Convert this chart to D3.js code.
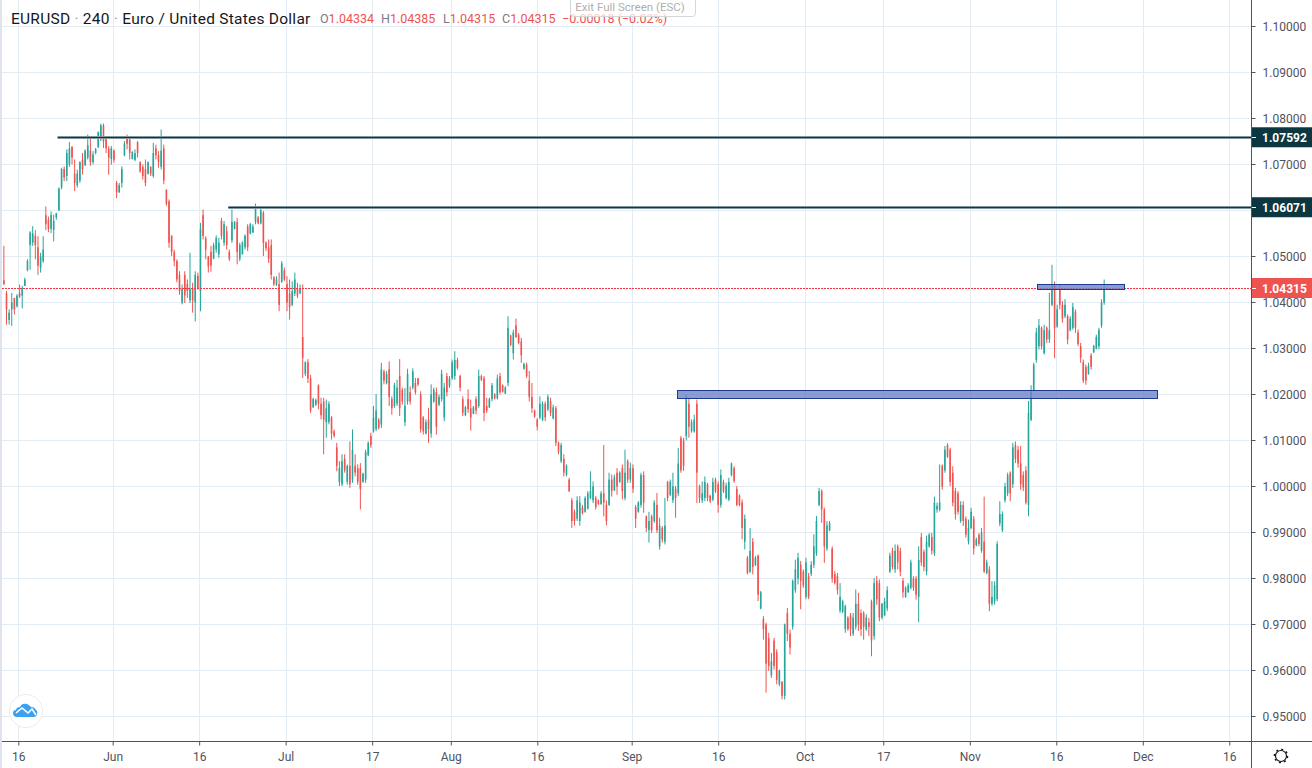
<!DOCTYPE html>
<html>
<head>
<meta charset="utf-8">
<title>EURUSD 240</title>
<script src="https://cdn.jsdelivr.net/npm/d3@7"></script>
<style>
  html, body { margin: 0; padding: 0; background: #fff; overflow: hidden; }
  svg { display: block; font-family: Roboto, "Liberation Sans", sans-serif; }
</style>
</head>
<body>
<svg id="chart" width="1312" height="768"></svg>
<script>
// candles are [high, low, open, close] in 1/10000ths, grouped by month
const mayBars = [
  [10523,10438,10448,10440],[10425,10352,10420,10385],[10385,10352,10362,10378],[10421,10349,10385,10400],
  [10410,10374,10410,10385],[10418,10389,10392,10415],[10439,10410,10420,10413],[10436,10387,10415,10430],
  [10454,10436,10436,10450],[10494,10468,10470,10490],[10555,10471,10525,10552],[10566,10523,10530,10550],
  [10557,10494,10545,10525],[10544,10460,10520,10480],[10508,10465,10475,10500],[10544,10486,10490,10515],
  [10609,10557,10590,10570],[10587,10553,10580,10560],[10598,10551,10560,10590],[10591,10533,10558,10578],
  [10595,10580,10585,10594],[10650,10600,10600,10648],[10693,10646,10650,10690],[10696,10664,10690,10672],
  [10733,10664,10675,10725],[10749,10695,10700,10735],[10740,10700,10738,10715],[10711,10642,10680,10660],
  [10689,10650,10655,10680],[10707,10660,10665,10705],[10725,10678,10710,10690],[10733,10697,10698,10730],
  [10765,10711,10715,10742],[10758,10697,10730,10705],[10729,10700,10705,10722],[10736,10722,10725,10733],
  [10772,10736,10738,10770],[10789,10751,10755,10785],[10789,10736,10785,10750],[10758,10725,10755,10735],
  [10740,10678,10735,10715],[10740,10700,10712,10735]
];
const junBars = [
  [10733,10704,10730,10710],[10664,10627,10660,10640],[10660,10638,10640,10655],[10696,10650,10660,10690],
  [10751,10718,10720,10745],[10765,10733,10760,10745],[10758,10711,10755,10725],[10729,10711,10712,10727],
  [10733,10707,10710,10725],[10751,10715,10748,10725],[10707,10682,10705,10685],[10700,10667,10695,10675],
  [10711,10653,10690,10660],[10707,10678,10680,10705],[10696,10675,10695,10680],[10747,10671,10675,10725],
  [10743,10711,10735,10720],[10729,10693,10720,10705],[10776,10689,10695,10730],[10743,10657,10735,10665],
  [10646,10610,10645,10615],[10624,10519,10620,10530],[10546,10501,10545,10510],[10515,10479,10510,10490],
  [10494,10444,10490,10450],[10468,10417,10460,10425],[10439,10396,10400,10430],[10468,10399,10460,10415],
  [10450,10410,10440,10425],[10508,10399,10405,10430],[10443,10378,10430,10405],[10468,10359,10400,10460],
  [10465,10428,10458,10430],[10573,10381,10425,10560],[10602,10537,10590,10545],[10544,10494,10540,10515],
  [10501,10465,10500,10478],[10523,10467,10510,10480],[10530,10494,10495,10525],[10546,10508,10515,10540],
  [10541,10497,10505,10530],[10584,10537,10578,10545],[10577,10523,10530,10570],[10566,10515,10555,10525],
  [10515,10490,10510,10495],[10602,10530,10535,10575],[10577,10559,10560,10575],[10584,10483,10575,10510],
  [10530,10490,10495,10525],[10533,10504,10505,10530],[10548,10515,10520,10545],[10570,10512,10565,10520],
  [10573,10548,10550,10570],[10570,10551,10552,10565],[10615,10570,10575,10605],[10588,10570,10585,10572],
  [10606,10570,10572,10600],[10599,10501,10595,10530],[10533,10512,10530,10518],[10537,10486,10520,10495],
  [10537,10450,10525,10460],[10457,10436,10455,10440],[10457,10436,10438,10450],[10465,10381,10440,10395],
  [10490,10443,10445,10485],[10476,10447,10470,10450]
];
const julBars = [
  [10457,10381,10440,10400],[10450,10363,10420,10390],[10446,10392,10395,10425],[10465,10414,10420,10450],
  [10443,10410,10430,10415],[10439,10418,10420,10430],[10439,10236,10325,10280],[10272,10240,10245,10270],
  [10277,10225,10270,10235],[10243,10160,10235,10165],[10193,10171,10172,10190],[10191,10175,10178,10188],
  [10222,10168,10220,10180],[10193,10146,10180,10155],[10193,10070,10185,10145],[10189,10106,10140,10170],
  [10185,10135,10140,10180],[10153,10102,10150,10115],[10124,10106,10120,10110],[10095,10033,10085,10045],
  [10055,10001,10010,10040],[10070,10001,10005,10055],[10070,10030,10060,10035],[10048,10004,10010,10045],
  [10098,9997,10045,10005],[10124,10008,10015,10080],[10070,10022,10045,10030],[10048,10004,10040,10010],
  [10051,9950,10040,9995],[10030,10008,10010,10028],[10080,10008,10015,10075],[10098,10066,10068,10095],
  [10117,10084,10110,10090],[10175,10117,10120,10150],[10201,10120,10125,10165],[10149,10124,10145,10128],
  [10269,10127,10135,10255],[10254,10222,10250,10230],[10251,10222,10225,10245],[10272,10175,10255,10195],
  [10196,10156,10190,10170],[10225,10171,10175,10220],[10232,10175,10180,10215],[10277,10153,10240,10170],
  [10215,10178,10210,10185],[10214,10131,10140,10175],[10256,10178,10185,10245],[10218,10178,10205,10185],
  [10257,10211,10215,10250],[10236,10200,10225,10205],[10236,10218,10235,10222],[10207,10117,10200,10125],
  [10153,10113,10150,10120],[10146,10113,10115,10140],[10171,10095,10145,10125],[10222,10106,10115,10200],
  [10215,10182,10185,10210],[10215,10113,10205,10130],[10200,10175,10178,10195],[10254,10185,10190,10245],
  [10225,10142,10150,10215],[10247,10196,10240,10205],[10240,10214,10218,10235]
];
const augBars = [
  [10276,10232,10235,10270],[10294,10232,10240,10275],[10280,10254,10275,10258],[10243,10207,10240,10215],
  [10196,10153,10190,10160],[10175,10153,10155,10172],[10211,10160,10190,10168],[10189,10122,10170,10150],
  [10175,10157,10158,10172],[10196,10157,10190,10165],[10254,10171,10175,10240],[10243,10229,10240,10232],
  [10240,10142,10235,10160],[10193,10160,10175,10165],[10193,10171,10172,10190],[10225,10185,10190,10220],
  [10203,10189,10200,10192],[10243,10189,10192,10235],[10247,10200,10240,10205],[10222,10204,10220,10206],
  [10218,10201,10202,10215],[10370,10218,10225,10345],[10330,10305,10328,10308],[10341,10276,10290,10335],
  [10365,10323,10350,10325],[10334,10309,10330,10312],[10323,10269,10315,10285],[10269,10254,10256,10266],
  [10269,10236,10265,10240],[10251,10185,10230,10195],[10225,10160,10195,10170],[10167,10149,10165,10152],
  [10149,10122,10145,10130],[10196,10146,10150,10180],[10185,10142,10145,10180],[10185,10142,10180,10150],
  [10200,10164,10168,10195],[10193,10153,10185,10160],[10178,10146,10148,10172],[10175,10088,10170,10095],
  [10098,10070,10095,10075],[10095,10051,10055,10090],[10070,10022,10060,10030],[10048,10022,10025,10045],
  [10019,9988,10015,9990],[9975,9910,9970,9925],[9950,9915,9945,9925],[9979,9925,9930,9970],
  [9979,9915,9925,9965],[9960,9939,9955,9942],[9979,9943,9945,9975],[9990,9950,9952,9985],
  [10033,9972,9975,9990],[10011,9964,9970,10000],[9979,9950,9975,9955],[9972,9960,9970,9962],
  [9990,9960,9962,9985],[10090,9935,9985,9965],[9970,9915,9960,9925],[10030,9958,9960,10015],
  [10026,9978,10015,9990],[10026,9990,9992,10020],[10040,9982,10030,10000],[10033,10008,10010,10030],
  [10048,9972,10040,9990],[10080,9970,9975,10030],[10059,10008,10055,10015],[10052,10008,10015,10040]
];
const sepBars = [
  [10048,9986,10040,9995],[9960,9910,9955,9930],[9968,9943,9945,9965],[10030,9954,9960,10025],
  [10033,9943,10025,9965],[9937,9901,9935,9910],[9945,9878,9905,9925],[9939,9899,9935,9905],
  [9970,9921,9925,9965],[9986,9899,9960,9905],[9932,9863,9870,9915],[9914,9878,9910,9885],
  [9975,9874,9880,9915],[10012,9968,10010,9975],[10015,9979,9982,10010],[10030,9964,9970,10000],
  [10001,9932,9995,9975],[10084,9979,9985,10050],[10110,10030,10105,10035],[10106,10034,10100,10045],
  [10200,10100,10110,10190],[10193,10106,10180,10130],[10146,10117,10120,10140],[10156,10117,10120,10145],
  [10189,9964,10180,10030],[10004,9964,10000,9975],[10011,9964,9970,9985],[10022,9968,9975,10010],
  [10008,9968,10005,9975],[9982,9964,9980,9968],[10019,9968,9972,10010],[10019,9986,10015,9990],
  [10011,9943,10005,9960],[10037,9954,9960,10025],[10015,9986,10010,9990],[10008,9972,9975,10002],
  [10019,9968,9972,10010],[10052,10022,10025,10050],[10044,10008,10040,10012],[10001,9957,9995,9960],
  [9983,9957,9980,9960],[9972,9885,9965,9910],[9939,9863,9880,9930],[9849,9809,9845,9812],
  [9910,9812,9815,9860],[9888,9809,9880,9825],[9849,9827,9830,9845],[9852,9751,9850,9765],
  [9773,9733,9735,9770],[9718,9667,9712,9690],[9704,9552,9700,9615],[9682,9599,9670,9610],
  [9638,9584,9590,9620],[9671,9602,9665,9610],[9646,9570,9640,9580],[9602,9566,9570,9600],
  [9577,9537,9575,9545],[9702,9537,9545,9700],[9736,9664,9725,9680],[9689,9635,9680,9650],
  [9798,9689,9695,9795],[9841,9769,9775,9820],[9856,9787,9800,9845],[9838,9733,9830,9795],
  [9820,9780,9815,9785]
];
const octBars = [
  [9845,9755,9760,9835],[9812,9755,9805,9760],[9838,9805,9810,9830],[9896,9823,9830,9870],
  [9936,9849,9855,9925],[9997,9957,9960,9990],[9994,9921,9990,9950],[9954,9834,9950,9870],
  [9925,9860,9865,9915],[9925,9903,9905,9920],[9870,9791,9865,9800],[9816,9787,9810,9790],
  [9812,9765,9805,9775],[9790,9725,9730,9760],[9754,9725,9728,9750],[9743,9682,9690,9740],
  [9718,9686,9715,9690],[9725,9675,9720,9690],[9725,9675,9680,9715],[9776,9689,9695,9745],
  [9769,9686,9745,9700],[9733,9675,9725,9690],[9729,9667,9725,9695],[9722,9686,9690,9715],
  [9714,9675,9705,9695],[9754,9631,9750,9665],[9801,9667,9675,9790],[9805,9743,9795,9755],
  [9798,9707,9790,9715],[9747,9711,9715,9745],[9758,9718,9720,9750],[9783,9729,9735,9775],
  [9856,9812,9815,9850],[9867,9820,9860,9825],[9874,9812,9820,9860],[9874,9820,9870,9835],
  [9867,9805,9860,9815],[9801,9758,9795,9770],[9783,9758,9760,9780],[9790,9769,9770,9785],
  [9841,9776,9780,9835],[9805,9773,9800,9780],[9805,9754,9800,9765],[9870,9705,9760,9840],
  [9899,9827,9890,9835],[9863,9816,9858,9825],[9893,9807,9815,9880],[9899,9867,9870,9895],
  [9899,9852,9890,9860],[9978,9849,9855,9965],[9965,9943,9950,9958],[10048,9946,9950,9965],
  [10048,9993,10045,10000],[10088,10030,10035,10080],[10094,10062,10090,10065],[10084,10001,10080,10010],
  [10044,9957,10030,9965],[9997,9928,9990,9940],[9990,9939,9985,9945],[9968,9921,9925,9960],
  [9968,9914,9960,9925],[9935,9889,9930,9895],[9928,9874,9880,9910]
];
const novBars = [
  [9954,9907,9910,9945],[9936,9852,9930,9865],[9889,9870,9872,9885],[9899,9870,9895,9875],
  [9910,9856,9860,9900],[9978,9812,9880,9815],[9841,9809,9812,9835],[9827,9729,9820,9745],
  [9794,9741,9745,9760],[9794,9743,9750,9785],[9881,9751,9755,9875],[9968,9914,9920,9940],
  [9946,9901,9905,9940],[10008,9965,9970,10000],[10030,9979,9985,10025],[10033,9968,10030,9985],
  [10095,9997,10005,10085],[10098,10051,10090,10060],[10088,10041,10080,10050],[10088,9993,10050,10005],
  [10033,9990,10025,9998],[10044,9961,10035,9965],[10186,9935,9960,10160],[10220,10142,10145,10205],
  [10269,10207,10210,10265],[10345,10269,10275,10335],[10364,10298,10305,10350],[10348,10298,10345,10305],
  [10352,10287,10290,10340],[10348,10312,10345,10320],[10421,10312,10320,10340],[10482,10392,10395,10440],
  [10446,10279,10440,10345],[10395,10345,10348,10385],[10439,10385,10430,10395],[10403,10356,10395,10365],
  [10407,10366,10370,10395],[10374,10309,10370,10320],[10370,10337,10340,10365],[10399,10341,10345,10390],
  [10385,10334,10380,10345],[10341,10305,10335,10310],[10312,10269,10305,10280],[10276,10225,10270,10230],
  [10265,10221,10260,10230],[10269,10243,10245,10262],[10290,10254,10285,10260],[10308,10290,10292,10305],
  [10330,10298,10300,10325],[10345,10298,10305,10340],[10407,10345,10350,10400],[10450,10395,10400,10431.5]
];
const monthStarts = ['2022-05-12','2022-06-01','2022-07-01','2022-08-01','2022-09-01','2022-10-03','2022-11-01','2022-11-24T06:00'];
const monthBars = [mayBars, junBars, julBars, augBars, sepBars, octBars, novBars];

// time axis
const timeTicks = ['2022-05-16','2022-06-01','2022-06-16','2022-07-01','2022-07-17','2022-08-01','2022-08-16','2022-09-01','2022-09-16','2022-10-02','2022-10-17','2022-11-01','2022-11-16','2022-12-01','2022-12-16'];
// price axis
const priceGrid = [0.95,0.96,0.97,0.98,0.99,1.00,1.01,1.02,1.03,1.04,1.05,1.06,1.07,1.08,1.09,1.10];
const priceLabels = [0.95,0.96,0.97,0.98,0.99,1.00,1.01,1.02,1.03,1.04,1.05,1.07,1.08,1.09,1.10];

// drawn levels and zones
const levelPrices = [1.07592, 1.06071];
const levelStarts = ['2022-05-23', '2022-06-21T17:00'];
const zoneTops = [1.02087, 1.04391];
const zoneBottoms = [1.01913, 1.04283];
const zoneStarts = ['2022-09-08T19:00', '2022-11-11T12:00'];
const zoneEnds = ['2022-12-02T20:00', '2022-11-28T14:00'];
const lastPrice = 1.04315;

const legendNames = ['EURUSD', '240', 'Euro / United States Dollar'];
const ohlcKeys = ['O', 'H', 'L', 'C'];
const ohlcValues = ['1.04334', '1.04385', '1.04315', '1.04315'];
const changeText = '\u22120.00018 (\u22120.02%)';

const width = 1312, height = 768;
const plotRight = 1251, plotBottom = 741;
const upColor = '#26a69a', downColor = '#ef5350', gridColor = '#e3ecf2',
      axisColor = '#50535e', levelColor = '#0c3640';

const svg = d3.select('#chart');

// sessions skip weekends, the way the chart squeezes out Sat/Sun
const origin = new Date('2022-05-12T00:00:00Z');
const parseDay = s => new Date(s.length > 10 ? s + ':00Z' : s + 'T00:00:00Z');
const isWeekday = d => d.getUTCDay() > 0 && d.getUTCDay() < 6;
const sessions = s => {
  const d = parseDay(s);
  const day = d3.utcDay.floor(d);
  const whole = d3.utcDay.range(origin, day).filter(isWeekday).length;
  return whole + (isWeekday(d) ? (d - day) / 864e5 : 0);
};

const x = d3.scaleLinear()
  .domain([sessions(timeTicks[0]), sessions(timeTicks[timeTicks.length - 1])])
  .range([18.3, 1229.3]);
const y = d3.scaleLinear().domain([0.95, 1.10]).range([716.5, 26.5]);

const crispX = v => Math.round(v) + 0.5;
const crispY = v => Math.floor(v) + 0.5;

// left edge strip
svg.append('rect').attr('width', 2).attr('height', height).attr('fill', '#e0e3eb');

// grid
svg.append('g').selectAll('line').data(priceGrid).enter().append('line')
  .attr('x1', 2).attr('x2', plotRight)
  .attr('y1', d => crispY(y(d))).attr('y2', d => crispY(y(d)))
  .attr('stroke', gridColor);
svg.append('g').selectAll('line').data(timeTicks).enter().append('line')
  .attr('x1', d => crispX(x(sessions(d)))).attr('x2', d => crispX(x(sessions(d))))
  .attr('y1', 0).attr('y2', plotBottom)
  .attr('stroke', gridColor);

// candles
const candles = [];
monthBars.forEach((rows, m) => {
  const a = sessions(monthStarts[m]), b = sessions(monthStarts[m + 1]);
  rows.forEach((r, i) => {
    candles.push({ t: a + (i + 0.5) * (b - a) / rows.length, high: r[0] / 1e4, low: r[1] / 1e4, open: r[2] / 1e4, close: r[3] / 1e4 });
  });
});
const color = d => d.close >= d.open ? upColor : downColor;
const candle = svg.append('g').selectAll('g').data(candles).enter().append('g');
candle.append('line')
  .attr('x1', d => x(d.t)).attr('x2', d => x(d.t))
  .attr('y1', d => y(d.high)).attr('y2', d => y(d.low))
  .attr('stroke', color).attr('stroke-width', 1);
candle.append('rect')
  .attr('x', d => x(d.t) - 0.8)
  .attr('width', 1.6)
  .attr('y', d => y(Math.max(d.open, d.close)))
  .attr('height', d => Math.max(1, Math.abs(y(d.open) - y(d.close))))
  .attr('fill', color);

// last price line
svg.append('line')
  .attr('x1', 2).attr('x2', plotRight)
  .attr('y1', crispY(y(lastPrice))).attr('y2', crispY(y(lastPrice)))
  .attr('stroke', '#f23645').attr('stroke-dasharray', '2,1');

// zones
svg.append('g').selectAll('rect').data(zoneTops).enter().append('rect')
  .attr('x', (d, i) => crispX(x(sessions(zoneStarts[i]))))
  .attr('width', (d, i) => Math.round(x(sessions(zoneEnds[i])) - x(sessions(zoneStarts[i]))))
  .attr('y', d => crispY(y(d)))
  .attr('height', (d, i) => Math.round(y(zoneBottoms[i]) - y(d)))
  .attr('fill', '#6f83c4').attr('fill-opacity', 0.8)
  .attr('stroke', '#1c3a94').attr('stroke-width', 1);

// levels, the drawing tool leaves a pale halo round the line
levelPrices.forEach((p, i) => {
  [[3, '#a9bbbf'], [1.6, levelColor]].forEach(s => {
    svg.append('line')
      .attr('x1', x(sessions(levelStarts[i]))).attr('x2', plotRight)
      .attr('y1', y(p) + 0.3).attr('y2', y(p) + 0.3)
      .attr('stroke', s[1]).attr('stroke-width', s[0]);
  });
});

// axes
const yAxis = d3.axisRight(y).tickValues(priceLabels).tickSize(4).tickPadding(7).offset(0).tickFormat(d3.format('.5f'));
const xAxis = d3.axisBottom(x).tickValues(timeTicks.map(sessions)).tickSize(4).tickPadding(7)
  .tickFormat((d, i) => {
    const day = parseDay(timeTicks[i]);
    const shown = d3.utcDay.offset(day, day.getUTCDay() === 0 && day.getUTCDate() < 5 ? 1 - day.getUTCDate() : 0);
    return day.getUTCDate() <= 3 ? d3.utcFormat('%b')(shown) : d3.utcFormat('%-d')(day);
  });

svg.append('rect').attr('x', plotRight).attr('width', width - plotRight).attr('height', height).attr('fill', '#fff');
svg.append('rect').attr('y', plotBottom).attr('width', plotRight).attr('height', height - plotBottom).attr('fill', '#fff');
svg.append('rect').attr('y', 0).attr('width', 2).attr('height', height).attr('fill', '#e0e3eb');

const gy = svg.append('g').attr('transform', `translate(${plotRight + 0.5},0)`).call(yAxis);
const gx = svg.append('g').attr('transform', `translate(0,${plotBottom + 0.5})`).call(xAxis);
gy.select('.domain').remove();
gx.select('.domain').remove();
[gy, gx].forEach(g => {
  g.attr('font-family', 'Roboto, "Liberation Sans", sans-serif').attr('font-size', 12);
  g.selectAll('.tick line').attr('stroke', axisColor);
  g.selectAll('.tick text').attr('fill', axisColor);
});
gy.selectAll('.tick text').attr('y', 0.8);
svg.append('line').attr('x1', plotRight + 0.5).attr('x2', plotRight + 0.5).attr('y1', 0).attr('y2', height).attr('stroke', axisColor);
svg.append('line').attr('x1', 2).attr('x2', width).attr('y1', plotBottom + 0.5).attr('y2', plotBottom + 0.5).attr('stroke', axisColor);

// price tags on the axis
const tag = (price, fill) => {
  const cy = y(price);
  svg.append('rect').attr('x', plotRight + 1).attr('y', cy - 10).attr('width', width - plotRight - 1).attr('height', 20).attr('fill', fill);
  svg.append('line').attr('x1', plotRight + 1).attr('x2', plotRight + 5).attr('y1', crispY(cy)).attr('y2', crispY(cy)).attr('stroke', '#fff');
  svg.append('text').attr('x', plotRight + 11).attr('y', cy + 4.5)
    .attr('font-size', 12).attr('font-weight', 700).attr('fill', '#fff')
    .text(d3.format('.5f')(price));
};
levelPrices.forEach(p => tag(p, levelColor));
tag(lastPrice, downColor);

// legend
const legend = svg.append('text').attr('x', 11).attr('y', 23.5).attr('font-size', 15.5).attr('letter-spacing', 0.25).attr('fill', '#131722');
legendNames.forEach((s, i) => {
  if (i) legend.append('tspan').attr('fill', '#9598a1').text(' \u00b7 ');
  legend.append('tspan').text(s);
});
const ohlcX = [320, 381, 443, 502];
ohlcKeys.forEach((k, i) => {
  const t = svg.append('text').attr('x', ohlcX[i]).attr('y', 23).attr('font-size', 12.5);
  t.append('tspan').attr('fill', '#787b86').text(k);
  t.append('tspan').attr('fill', downColor).text(ohlcValues[i]);
});
svg.append('text').attr('x', 562).attr('y', 23).attr('font-size', 12.5).attr('fill', downColor).text(changeText);

// full screen hint sits over the legend
svg.append('rect').attr('x', 570.5).attr('y', -3).attr('width', 125).attr('height', 19.5).attr('rx', 3)
  .attr('fill', '#fff').attr('fill-opacity', 0.72).attr('stroke', '#d6d6d6');
svg.append('text').attr('x', 630).attr('y', 11).attr('text-anchor', 'middle').attr('font-size', 11.5).attr('fill', '#b0b0b0').text('Exit Full Screen (ESC)');

// logo
const logo = svg.append('g').attr('transform', 'translate(26,711)');
logo.append('circle').attr('r', 16.5).attr('fill', '#fff').attr('stroke', '#ececec').attr('stroke-width', 1);
logo.append('path')
  .attr('d', 'M-10,-1 C-10,-3 -8,-4 -6,-4 C-5,-7 -2,-8 1,-7 C3,-6 4,-5 5,-4 C8,-4 9,-3 9,-2 C11,-1 12,1 11,3 C11,5 9,6 8,6 L-9,6 C-12,6 -13,4 -13,2 C-13,0 -12,-1 -10,-1 Z')
  .attr('fill', '#3ba2f3');
logo.append('path')
  .attr('d', 'M-10,2 L-4,-3 L2,2 L6,-2 L10,4')
  .attr('fill', 'none').attr('stroke', '#fff').attr('stroke-width', 1.6);

// settings gear
const gear = svg.append('g').attr('transform', 'translate(1281,756)');
gear.append('circle').attr('r', 5.5).attr('fill', '#fff').attr('stroke', '#131722').attr('stroke-width', 1.2);
gear.append('circle').attr('r', 6.6).attr('fill', 'none').attr('stroke', '#131722').attr('stroke-width', 1.4).attr('stroke-dasharray', '2,3.18');
</script>
</body>
</html>
